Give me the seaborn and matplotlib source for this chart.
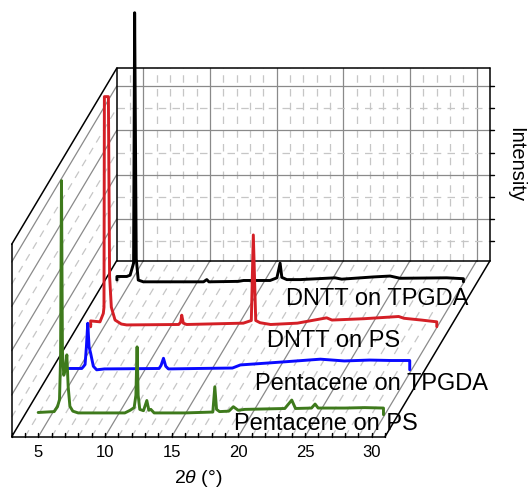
import numpy as np
import pandas as pd
import matplotlib
matplotlib.use('Agg')
import matplotlib.pyplot as plt
import seaborn as sns

sns.set_style('white')
plt.rcParams['font.family'] = ['Liberation Sans', 'DejaVu Sans']
plt.rcParams['text.color'] = 'black'
plt.rcParams['mathtext.fontset'] = 'custom'
plt.rcParams['mathtext.it'] = 'Liberation Sans:italic'
plt.rcParams['mathtext.rm'] = 'Liberation Sans'

# ---- data (2theta in deg, intensity in arb. units) ----
samples = ['DNTT on TPGDA', 'DNTT on PS', 'Pentacene on TPGDA', 'Pentacene on PS']
colors = ['#000000', '#d41f26', '#0a0aff', '#3e7a1c']
depth = [0.875, 0.625, 0.375, 0.125]

dntt_tpgda_x = [4.0, 4.0, 4.74, 4.99, 5.25, 5.33, 5.45, 5.6, 5.98, 10.5, 10.74, 10.9,
                13.1, 13.5, 14.49, 15.49, 16.0, 16.24, 16.37, 16.74, 17.74, 20.36,
                20.86, 23.23, 24.49, 25.24, 28.74, 29.99, 29.99]
dntt_tpgda_y = [0.12, 0.2, 0.2, 0.23, 0.5, 6.15, 0.6, 0.12, 0.08, 0.08, 0.13, 0.08,
                0.09, 0.11, 0.11, 0.11, 0.17, 0.5, 0.18, 0.13, 0.13, 0.17,
                0.14, 0.19, 0.21, 0.16, 0.17, 0.15, 0.08]

dntt_ps_x = [4.0, 4.0, 4.7, 4.95, 5.0, 5.03, 5.33, 5.42, 5.55, 5.83, 6.3, 6.7,
             10.6, 10.75, 10.83, 10.95, 11.2, 15.45, 16.05, 16.2, 16.38, 16.7,
             17.5, 19.5, 21.7, 22.1, 24.5, 27.1, 27.5, 28.8, 29.96, 29.96]
dntt_ps_y = [0.06, 0.19, 0.17, 0.36, 0.5, 5.25, 5.25, 1.2, 0.5, 0.21, 0.12, 0.1,
             0.11, 0.16, 0.32, 0.14, 0.11, 0.14, 0.2, 2.13, 0.2, 0.15,
             0.11, 0.14, 0.26, 0.21, 0.24, 0.29, 0.25, 0.21, 0.17, 0.06]

pen_tpgda_x = [4.0, 4.02, 5.3, 5.42, 5.55, 5.65, 5.75, 5.85, 5.97, 6.17, 6.42, 7.0,
               11.1, 11.25, 11.43, 11.6, 11.8, 14.0, 16.6, 17.2, 19.1, 20.5,
               23.2, 25.0, 26.9, 28.5, 29.9, 29.9]
pen_tpgda_y = [0.06, 0.11, 0.11, 0.15, 0.2, 0.6, 1.13, 0.6, 0.45, 0.16, 0.08, 0.1,
               0.11, 0.18, 0.34, 0.16, 0.1, 0.11, 0.12, 0.19, 0.23, 0.26,
               0.32, 0.28, 0.3, 0.29, 0.29, 0.08]

pen_ps_x = [4.0, 5.2, 5.45, 5.6, 5.68, 5.75, 5.82, 5.92, 6.05, 6.15, 6.25, 6.38,
            6.6, 7.0, 10.5, 10.9, 11.2, 11.33, 11.42, 11.5, 11.62, 11.9, 12.15,
            12.3, 12.45, 12.7, 15.0, 17.1, 17.25, 17.38, 17.6, 18.3, 18.64, 19.0,
            19.5, 21.0, 22.5, 23.02, 23.3, 24.5, 24.77, 25.0, 27.0, 28.5, 29.9, 29.9]
pen_ps_y = [0.11, 0.13, 0.24, 0.4, 1.3, 5.34, 1.5, 0.95, 1.1, 1.41, 0.7, 0.25,
            0.14, 0.1, 0.1, 0.16, 0.22, 0.5, 1.59, 0.5, 0.18, 0.15, 0.38,
            0.16, 0.18, 0.1, 0.1, 0.12, 0.69, 0.18, 0.13, 0.14, 0.24, 0.16,
            0.18, 0.19, 0.2, 0.39, 0.2, 0.21, 0.3, 0.21, 0.21, 0.22, 0.21, 0.06]

xs_all = [dntt_tpgda_x, dntt_ps_x, pen_tpgda_x, pen_ps_x]
ys_all = [dntt_tpgda_y, dntt_ps_y, pen_tpgda_y, pen_ps_y]

x_ticks = [5, 10, 15, 20, 25, 30]

# ---- oblique box geometry ----
X_MIN, X_MAX = 3, 31
Y_MIN, Y_MAX = 0.06, 4.40
PXD, PXI = 13.333, 44.33          # pixels per degree / per intensity unit
DX, DY = 105 / PXD, 176 / PXI     # shift of the back plane
W, H = 530, 490
OX, OY = 11.7, 436.7              # pixel of front-left-bottom corner


def proj(x, y, t):
    x = np.asarray(x, float)
    y = np.asarray(y, float)
    t = np.asarray(t, float)
    return x + t * DX, y + t * DY


def pix(px, py):
    return X_MIN + (px - OX) / PXD, Y_MIN + (OY - py) / PXI


fig = plt.figure(figsize=(W / 100, H / 100), dpi=100)
ax = fig.add_axes([0, 0, 1, 1])
ax.set_xlim(X_MIN - OX / PXD, X_MIN + (W - OX) / PXD)
ax.set_ylim(Y_MIN - (H - OY) / PXI, Y_MIN + OY / PXI)
ax.axis('off')

solid = dict(color='#8a8a8a', lw=0.9, zorder=1)
dash = dict(color='#c6c6c6', lw=0.9, ls=(0, (6, 5)), zorder=1)
frame = dict(color='black', lw=1.1, zorder=1.5, solid_capstyle='round')


def seg(p0, p1, **kw):
    sx, sy = proj([p0[0], p1[0]], [p0[1], p1[1]], [p0[2], p1[2]])
    ax.plot(sx, sy, **kw)


# back wall + floor grid along x
for x in range(4, 31):
    st = solid if x % 5 == 0 else dash
    seg((x, Y_MIN, 1), (x, Y_MAX, 1), **st)
    seg((x, Y_MIN, 0), (x, Y_MIN, 1), **st)

# back wall + left wall grid along intensity
for y in np.arange(0.5, 4.01, 0.5):
    st = solid if y % 1 == 0 else dash
    seg((X_MIN, y, 1), (X_MAX, y, 1), **st)
    seg((X_MIN, y, 0), (X_MIN, y, 1), **st)

# frame
seg((X_MIN, Y_MIN, 0), (X_MAX, Y_MIN, 0), **frame)
seg((X_MAX, Y_MIN, 0), (X_MAX, Y_MIN, 1), **frame)
seg((X_MIN, Y_MIN, 0), (X_MIN, Y_MIN, 1), **frame)
seg((X_MIN, Y_MIN, 1), (X_MAX, Y_MIN, 1), **frame)
seg((X_MIN, Y_MIN, 1), (X_MIN, Y_MAX, 1), **frame)
seg((X_MAX, Y_MIN, 1), (X_MAX, Y_MAX, 1), **frame)
seg((X_MIN, Y_MAX, 1), (X_MAX, Y_MAX, 1), **frame)
seg((X_MIN, Y_MIN, 0), (X_MIN, Y_MAX, 0), **frame)
seg((X_MIN, Y_MAX, 0), (X_MIN, Y_MAX, 1), **frame)

# ticks
for x in range(X_MIN, X_MAX + 1):
    ax.plot([x, x], [Y_MIN, Y_MIN + 4 / PXI], color='black', lw=1, zorder=1.5)
for y in np.arange(0.5, 4.01, 0.5):
    sx, sy = proj(X_MAX, y, 1)
    ax.plot([sx, sx + 3.5 / PXD], [sy, sy], color='black', lw=1, zorder=1.5)

for x in x_ticks:
    ax.text(x, Y_MIN - 15.5 / PXI, str(x), ha='center', va='center', fontsize=12)
ax.text((X_MIN + X_MAX) / 2, Y_MIN - 41.5 / PXI, r'2$\theta$ (°)',
        ha='center', va='center', fontsize=14)
ax.text(X_MAX + DX + 26 / PXD, (Y_MIN + Y_MAX) / 2 + DY, 'Intensity',
        rotation=-90, ha='center', va='center', fontsize=14.5)

# traces
frames = []
for name, xs, ys, t in zip(samples, xs_all, ys_all, depth):
    sx, sy = proj(xs, ys, t)
    frames.append(pd.DataFrame({'sx': sx, 'sy': sy, 'sample': name}))
df = pd.concat(frames, ignore_index=True)
sns.lineplot(data=df, x='sx', y='sy', hue='sample', hue_order=samples,
             palette=colors, sort=False, estimator=None, lw=2.1,
             legend=False, ax=ax, zorder=2)
ax.set_xlabel('')
ax.set_ylabel('')

# sample labels
label_pix = [(286, 305), (267, 346.5), (255, 390), (234, 430)]
for name, (px, py) in zip(samples, label_pix):
    lx, ly = pix(px, py)
    ax.text(lx, ly, name, ha='left', va='baseline', fontsize=17, zorder=3)

fig.savefig('out.png', dpi=100)
